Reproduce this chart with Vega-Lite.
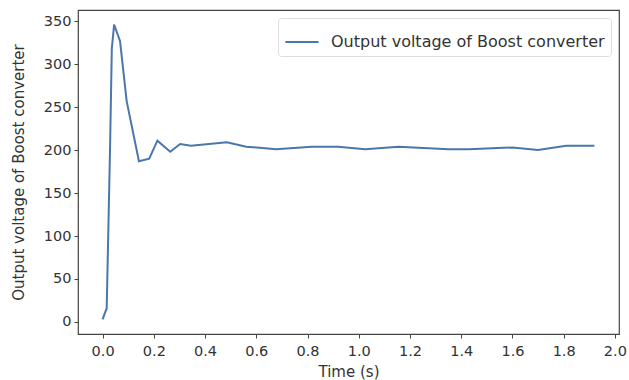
{
  "$schema": "https://vega.github.io/schema/vega-lite/v6.json",
  "autosize": "none",
  "width": 541,
  "height": 324,
  "padding": {"left": 78, "top": 10, "right": 10, "bottom": 46},
  "background": "white",
  "config": {
    "view": {"stroke": "#444", "strokeWidth": 1.2},
    "font": "DejaVu Sans",
    "axis": {
      "grid": false,
      "domain": false,
      "tickColor": "#444",
      "tickSize": 4,
      "labelFontSize": 14.5,
      "labelColor": "#333",
      "labelFont": "DejaVu Sans",
      "titleFont": "DejaVu Sans",
      "titleFontSize": 15,
      "titleFontWeight": "normal",
      "titleColor": "#333"
    }
  },
  "data": {
    "values": [
      {"t": 0.0, "v": 3, "s": "Output voltage of Boost converter"},
      {"t": 0.016, "v": 16, "s": "Output voltage of Boost converter"},
      {"t": 0.029, "v": 200, "s": "Output voltage of Boost converter"},
      {"t": 0.036, "v": 318, "s": "Output voltage of Boost converter"},
      {"t": 0.045, "v": 346, "s": "Output voltage of Boost converter"},
      {"t": 0.068, "v": 327, "s": "Output voltage of Boost converter"},
      {"t": 0.094, "v": 257, "s": "Output voltage of Boost converter"},
      {"t": 0.142, "v": 187, "s": "Output voltage of Boost converter"},
      {"t": 0.182, "v": 190, "s": "Output voltage of Boost converter"},
      {"t": 0.214, "v": 211, "s": "Output voltage of Boost converter"},
      {"t": 0.264, "v": 198, "s": "Output voltage of Boost converter"},
      {"t": 0.303, "v": 207, "s": "Output voltage of Boost converter"},
      {"t": 0.345, "v": 205, "s": "Output voltage of Boost converter"},
      {"t": 0.485, "v": 209, "s": "Output voltage of Boost converter"},
      {"t": 0.561, "v": 204, "s": "Output voltage of Boost converter"},
      {"t": 0.678, "v": 201, "s": "Output voltage of Boost converter"},
      {"t": 0.816, "v": 204, "s": "Output voltage of Boost converter"},
      {"t": 0.92, "v": 204, "s": "Output voltage of Boost converter"},
      {"t": 1.025, "v": 201, "s": "Output voltage of Boost converter"},
      {"t": 1.155, "v": 204, "s": "Output voltage of Boost converter"},
      {"t": 1.35, "v": 201, "s": "Output voltage of Boost converter"},
      {"t": 1.43, "v": 201, "s": "Output voltage of Boost converter"},
      {"t": 1.6, "v": 203, "s": "Output voltage of Boost converter"},
      {"t": 1.70, "v": 200, "s": "Output voltage of Boost converter"},
      {"t": 1.81, "v": 205, "s": "Output voltage of Boost converter"},
      {"t": 1.92, "v": 205, "s": "Output voltage of Boost converter"}
    ]
  },
  "mark": {"type": "line", "strokeWidth": 2, "clip": true},
  "encoding": {
    "x": {
      "field": "t", "type": "quantitative",
      "scale": {"domain": [-0.096, 2.016], "nice": false, "zero": false},
      "axis": {"values": [0, 0.2, 0.4, 0.6, 0.8, 1.0, 1.2, 1.4, 1.6, 1.8, 2.0], "format": ".1f", "title": "Time (s)", "labelPadding": 6, "titlePadding": 7}
    },
    "y": {
      "field": "v", "type": "quantitative",
      "scale": {"domain": [-14, 363], "nice": false, "zero": false},
      "axis": {"values": [0, 50, 100, 150, 200, 250, 300, 350], "title": "Output voltage of Boost converter", "labelPadding": 3, "titlePadding": 17}
    },
    "color": {
      "field": "s", "type": "nominal",
      "scale": {"range": ["#4a77ab"]},
      "legend": {
        "title": null,
        "orient": "top-right",
        "offset": 8,
        "symbolType": "stroke",
        "symbolSize": 1100,
        "symbolStrokeWidth": 2,
        "labelFontSize": 16,
        "labelLimit": 400,
        "labelColor": "#333",
        "labelFont": "DejaVu Sans",
        "labelOffset": 11,
        "strokeColor": "#ddd",
        "fillColor": "white",
        "cornerRadius": 3,
        "padding": 6
      }
    }
  }
}
